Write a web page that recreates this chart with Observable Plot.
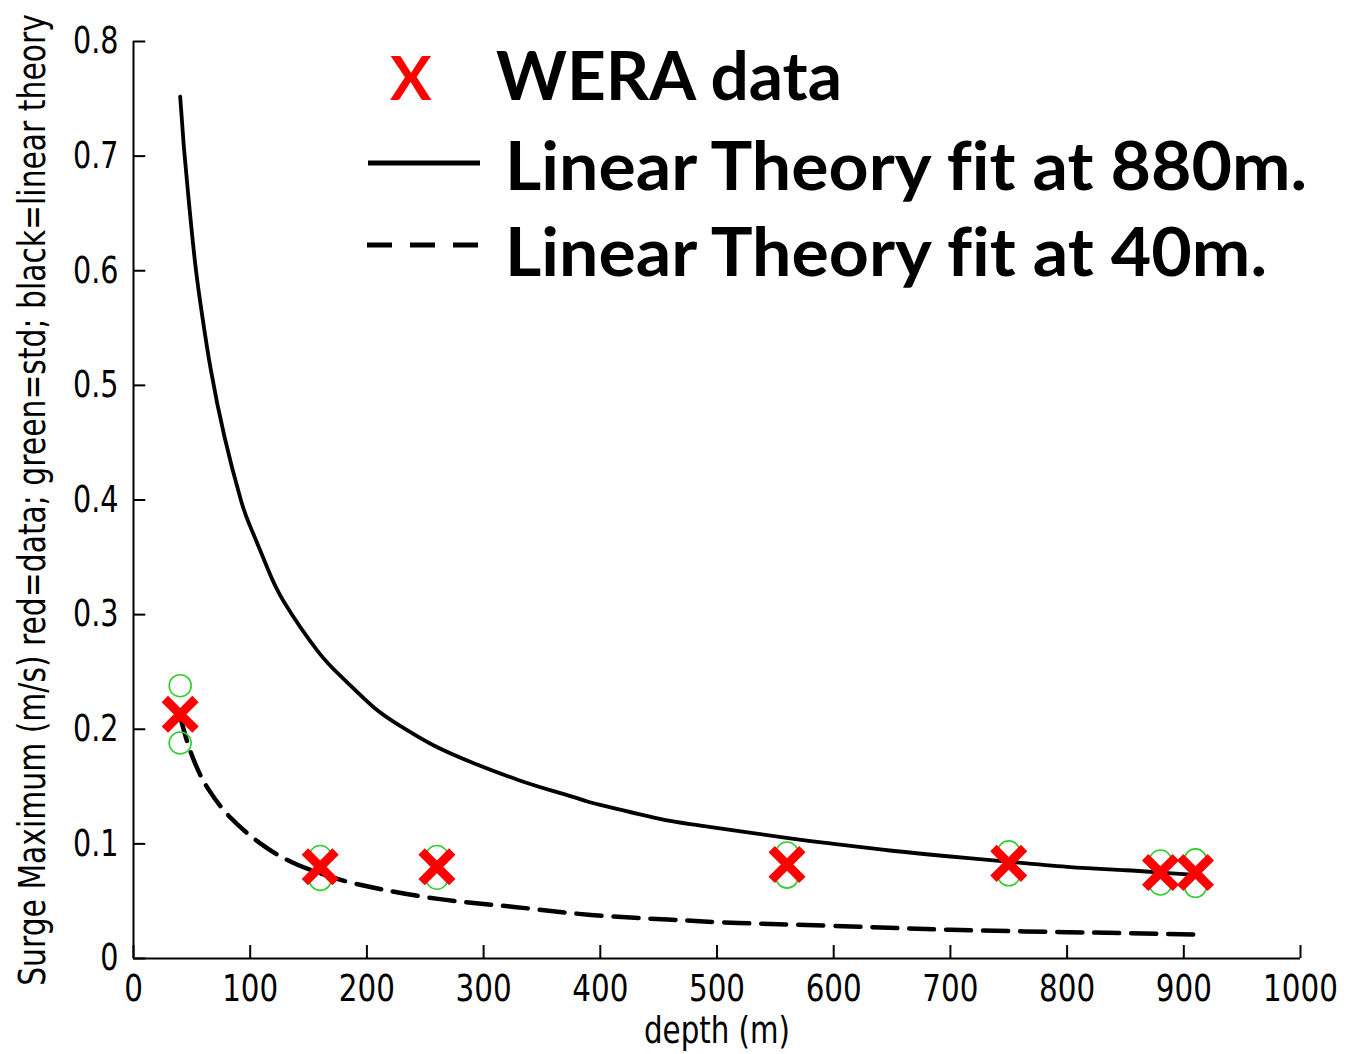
<!DOCTYPE html>
<html><head><meta charset="utf-8">
<script src="https://cdn.jsdelivr.net/npm/d3@7"></script>
<script src="https://cdn.jsdelivr.net/npm/@observablehq/plot@0.6"></script>
<style>
html,body{margin:0;padding:0;background:#fff;}
#wrap{position:relative;width:1358px;height:1054px;overflow:hidden;background:#fff;}
#legend{position:absolute;left:0;top:0;pointer-events:none;}
</style></head><body><div id="wrap"></div>
<script>
// ---- data ----
const xTicks = [0, 100, 200, 300, 400, 500, 600, 700, 800, 900, 1000];
const xTickLabels = ["0", "100", "200", "300", "400", "500", "600", "700", "800", "900", "1000"];
const yTicks = [0, 0.1, 0.2, 0.3, 0.4, 0.5, 0.6, 0.7, 0.8];
const yTickLabels = ["0", "0.1", "0.2", "0.3", "0.4", "0.5", "0.6", "0.7", "0.8"];

const dataDepth = [40, 160, 260, 560, 750, 880, 910];
const dataMean  = [0.213, 0.080, 0.080, 0.082, 0.083, 0.075, 0.075];
const dataUpper = [0.238, 0.089, 0.089, 0.092, 0.093, 0.085, 0.086];
const dataLower = [0.188, 0.069, 0.070, 0.071, 0.073, 0.065, 0.063];

const fit880Depth = [40, 43, 47, 53, 59, 66, 78, 92, 100, 115, 129, 158, 180, 206, 230, 257, 290, 329, 360, 386, 400, 450, 486, 561, 600, 650, 700, 744, 800, 850, 880, 910];
const fit880Value = [0.752, 0.71, 0.665, 0.605, 0.56, 0.515, 0.455, 0.40, 0.377, 0.34, 0.311, 0.268, 0.244, 0.219, 0.202, 0.186, 0.171, 0.156, 0.146, 0.138, 0.134, 0.122, 0.116, 0.105, 0.100, 0.094, 0.089, 0.085, 0.080, 0.077, 0.075, 0.073];

const fit40Depth = [40, 47, 55, 64, 83, 112, 140, 170, 200, 261, 326, 392, 458, 518, 615, 700, 800, 880, 910];
const fit40Value = [0.211, 0.186, 0.165, 0.148, 0.123, 0.098, 0.082, 0.071, 0.063, 0.052, 0.045, 0.038, 0.034, 0.031, 0.028, 0.025, 0.023, 0.0215, 0.021];

const legendSymbol = "X";
const legendLabels = ["WERA data", "Linear Theory fit at 880m.", "Linear Theory fit at 40m."];
const xLabel = "depth (m)";
const yLabel = "Surge Maximum (m/s) red=data; green=std; black=linear theory";

// ---- build tables ----
const points = dataDepth.map((d, i) => ({depth: d, v: dataMean[i]}));
const stdPoints = dataDepth.flatMap((d, i) => [{depth: d, v: dataUpper[i]}, {depth: d, v: dataLower[i]}]);
const fit880 = fit880Depth.map((d, i) => ({depth: d, v: fit880Value[i]}));
const fit40 = fit40Depth.map((d, i) => ({depth: d, v: fit40Value[i]}));

const axisFont = "'Liberation Sans Narrow', 'Arial Narrow', 'DejaVu Sans Condensed', 'Liberation Sans', sans-serif";

const chart = Plot.plot({
  width: 1358,
  height: 1054,
  marginLeft: 133,
  marginRight: 58,
  marginTop: 41,
  marginBottom: 96,
  style: {background: "#fff", fontFamily: axisFont, color: "#000", overflow: "visible"},
  x: {domain: [0, 1000]},
  y: {domain: [0, 0.8]},
  marks: [
    Plot.ruleY([0], {stroke: "#000", strokeWidth: 2}),
    Plot.ruleX([0], {stroke: "#000", strokeWidth: 2}),
    Plot.ruleX(xTicks, {y1: 0, y2: 0.0113, stroke: "#000", strokeWidth: 2}),
    Plot.ruleY(yTicks, {x1: 0, x2: 10.5, stroke: "#000", strokeWidth: 2}),
    Plot.axisX({
      ticks: xTicks, tickSize: 0, tickPadding: 16,
      tickFormat: d => xTickLabels[xTicks.indexOf(d)],
      fontSize: 38, label: xLabel, labelAnchor: "center", labelArrow: "none", labelOffset: 84
    }),
    Plot.axisY({
      ticks: yTicks, tickSize: 0, tickPadding: 15,
      tickFormat: d => yTickLabels[yTicks.indexOf(d)],
      fontSize: 37, label: yLabel, labelAnchor: "center", labelArrow: "none", labelOffset: 115
    }),
    Plot.line(fit880, {x: "depth", y: "v", stroke: "#000", strokeWidth: 3.8, curve: "natural"}),
    Plot.line(fit40, {x: "depth", y: "v", stroke: "#000", strokeWidth: 4.5, strokeDasharray: "25,12", curve: "natural"}),
    Plot.dot(stdPoints, {x: "depth", y: "v", r: 11, stroke: "#33cc33", strokeWidth: 1.6, fill: "none"}),
    Plot.dot(points, {x: "depth", y: "v", symbol: "times", r: 14, stroke: "#f00", strokeWidth: 9})
  ]
});
const wrap = document.getElementById("wrap");
wrap.appendChild(chart);

// narrow the axis texts to match the condensed look of the original
const svg = d3.select(chart.tagName.toLowerCase() === "svg" ? chart : chart.querySelector("svg"));
svg.selectAll('g[aria-label="x-axis tick label"] text, g[aria-label="y-axis tick label"] text').each(function() {
  const len = this.getComputedTextLength();
  this.setAttribute("textLength", (len * 0.86).toFixed(1));
  this.setAttribute("lengthAdjust", "spacingAndGlyphs");
});
// y label: shrink the font so that its natural length is 972px, then stretch glyph height back
svg.selectAll('g[aria-label="y-axis label"] text').each(function() {
  const base = 37;
  this.style.fontSize = base + "px";
  const len0 = this.getComputedTextLength();
  const size = base * 972 / len0;
  this.style.fontSize = size + "px";
  const tf = this.getAttribute("transform") || "";
  this.setAttribute("transform", tf + " scale(1," + (base / size).toFixed(4) + ")");
});
svg.selectAll('g[aria-label="x-axis label"] text').each(function() {
  this.setAttribute("textLength", 146);
  this.setAttribute("lengthAdjust", "spacingAndGlyphs");
});

// ---- legend overlay ----
const leg = d3.select(wrap).append("svg").attr("id", "legend").attr("width", 1358).attr("height", 1054);
const legFont = "Lato, 'Open Sans', sans-serif";
leg.append("text").attr("x", 390).attr("y", 100).attr("fill", "#ff0000")
  .attr("font-family", legFont).attr("font-weight", 700).attr("font-size", 62).text(legendSymbol);
leg.append("line").attr("x1", 368).attr("x2", 480).attr("y1", 163).attr("y2", 163)
  .attr("stroke", "#000").attr("stroke-width", 5);
leg.append("line").attr("x1", 367).attr("x2", 478).attr("y1", 245).attr("y2", 245)
  .attr("stroke", "#000").attr("stroke-width", 5).attr("stroke-dasharray", "25,18");
const rows = [{x: 496, y: 100, w: 346}, {x: 505, y: 190, w: 802}, {x: 505, y: 276, w: 762}];
legendLabels.forEach((t, i) => {
  leg.append("text").attr("x", rows[i].x).attr("y", rows[i].y).attr("fill", "#000")
    .attr("font-family", legFont).attr("font-weight", 700).attr("font-size", 67)
    .style("font-variant-ligatures", "none")
    .attr("textLength", rows[i].w).attr("lengthAdjust", "spacingAndGlyphs")
    .text(t);
});
</script>
</body></html>
